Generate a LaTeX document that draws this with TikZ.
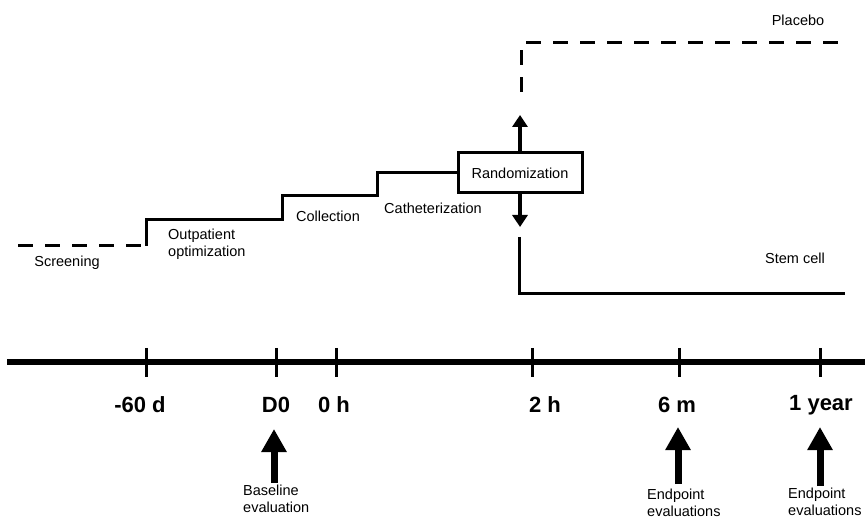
\documentclass[tikz,border=0pt]{standalone}
\usepackage{fontspec}
\setmainfont{Liberation Sans}
\usetikzlibrary{arrows.meta,positioning}

\tikzset{
  phase/.style={line width=3pt},
  phasedash/.style={line width=3pt,dash pattern=on 15pt off 12pt},
  lbl/.style={inner sep=0pt,font=\fontsize{14.5}{17}\selectfont,align=left},
  timelbl/.style={inner sep=0pt,font=\fontsize{22}{24}\selectfont\bfseries},
  evalarrow/.style={line width=7pt,-{Triangle[width=24pt,length=23pt]}},
  randarrow/.style={line width=4pt,-{Triangle[width=15pt,length=12pt]}},
}

\begin{document}
\begin{tikzpicture}[x=1pt,y=-1pt]
\useasboundingbox (0,0) rectangle (865,521);

% Randomization box
\node[draw,line width=3pt,minimum width=124pt,minimum height=40pt,inner sep=0pt,
  font=\fontsize{14.5}{17}\selectfont] (rand) at (520,173) {Randomization};

% Phases before randomization
\coordinate (scr) at (18,246);
\coordinate (opt) at (146,246);
\draw[phasedash] (scr) -- (opt);
\draw[phase] (opt) -- (146,220) -- (282,220) -- (282,196) -- (377,196)
  -- (377,173) -- (rand.west);

\node[lbl] (screening) at (67,263) {Screening};
\node[lbl,anchor=north west] (outpat) at (168,229) {Outpatient\\optimization};
\node[lbl] (collect) at (328,216) {Collection};
\node[lbl] (cath) at (433,208) {Catheterization};

% Placebo arm
\coordinate (armup) at (520,115);
\draw[randarrow] (rand.north) -- (armup);
\draw[phasedash] (521,92) |- (845,43) coordinate (placeboend);
\node[lbl] (placebo) at (798,20) {Placebo};

% Stem cell arm
\coordinate (armdown) at (520,227);
\draw[randarrow] (rand.south) -- (armdown);
\draw[phase] (519,237) |- (845,294) coordinate (stemend);
\node[lbl] (stem) at (795,258) {Stem cell};

% Time axis
\draw[line width=6pt] (7,362) coordinate (axstart) -- (865,362) coordinate (axend);
\foreach \x/\name in {146/m60d,276/d0,336/h0,532/h2,679/m6,820/y1}{
  \draw[line width=3pt] (\x,348) coordinate (tick\name) -- (\x,377);
}
\node[timelbl] (lm60d) at (140,405) {-60 d};
\node[timelbl] (ld0) at (276,405) {D0};
\node[timelbl] (lh0) at (334,405) {0 h};
\node[timelbl] (lh2) at (545,405) {2 h};
\node[timelbl] (lm6) at (677,405) {6 m};
\node[timelbl] (ly1) at (821,405) {1 year};

% Evaluations
\node[lbl,anchor=north west] (baseline) at (243,485) {Baseline\\evaluation};
\node[lbl,anchor=north west] (endsix) at (647,489) {Endpoint\\evaluations};
\node[lbl,anchor=north west] (endyear) at (788,488) {Endpoint\\evaluations};

\coordinate (ad0) at (274,429);
\coordinate (am6) at (678,427);
\coordinate (ay1) at (820,427);
\draw[evalarrow] (ad0 |- baseline.north) ++(0,-2) -- (ad0);
\draw[evalarrow] (am6 |- endsix.north) ++(0,-5) -- (am6);
\draw[evalarrow] (ay1 |- endyear.north) ++(0,-2) -- (ay1);
\end{tikzpicture}
\end{document}
